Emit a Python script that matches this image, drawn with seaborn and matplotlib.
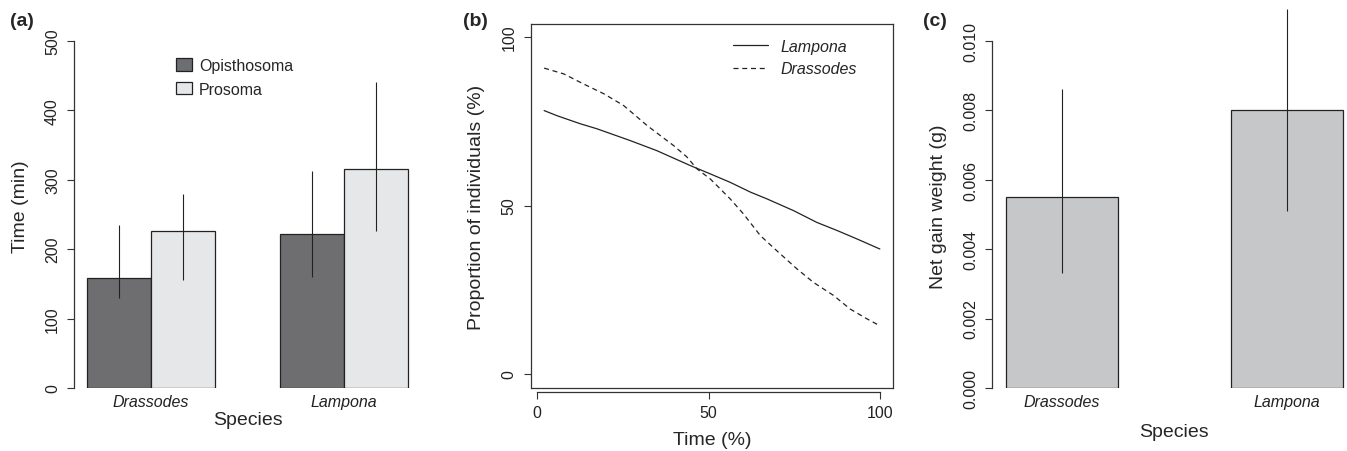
import numpy as np
import pandas as pd
import matplotlib
matplotlib.use("Agg")
import matplotlib.pyplot as plt
import seaborn as sns
from matplotlib.patches import Patch
from matplotlib.lines import Line2D

# panel (a): time to feed on each body part
species = ["Drassodes", "Lampona"]
parts = ["Opisthosoma", "Prosoma"]
opis_time = [158, 222]
opis_lo = [129, 160]
opis_hi = [235, 312]
pros_time = [226, 315]
pros_lo = [155, 226]
pros_hi = [280, 441]

# panel (b): proportion of individuals still feeding
lamp_x = [2, 5.7, 12.5, 17.4, 27.1, 34.9, 44.6, 50.5, 56.3, 62.2, 67, 74.8, 81.6, 87.5, 93.3, 100]
lamp_y = [78.2, 76.7, 74.3, 72.8, 69.3, 66.3, 61.9, 59.4, 56.9, 54.0, 52.0, 48.5, 45.0, 42.6, 40.1, 37.1]
dras_x = [2, 7.7, 13.5, 19.4, 25.2, 28.1, 32, 35.9, 39.8, 43.7, 46.6, 50.5, 56.3, 60.2, 65.1,
          69.9, 75.8, 80.6, 86.5, 91.3, 96, 100]
dras_y = [90.8, 89.1, 86.1, 83.2, 79.7, 77.2, 73.8, 70.8, 67.8, 64.4, 60.9, 57.9, 52.0, 47.5, 41.1,
          36.6, 31.2, 27.2, 23.3, 19.3, 16.5, 14.3]

# panel (c): net weight gain
gain = [0.0055, 0.0080]
gain_lo = [0.0033, 0.0051]
gain_hi = [0.0086, 0.0109]

dark = "#6d6e72"
light = "#e6e7e8"
mid = "#c6c7c9"
ink = "#222222"

sns.set_style("ticks")
plt.rcParams["font.family"] = ["Liberation Sans", "DejaVu Sans"]
plt.rcParams["axes.edgecolor"] = "#333333"
plt.rcParams["axes.linewidth"] = 0.9
plt.rcParams["xtick.color"] = "#333333"
plt.rcParams["ytick.color"] = "#333333"
plt.rcParams["xtick.labelcolor"] = "#222222"
plt.rcParams["ytick.labelcolor"] = "#222222"

tick_fs = 11.5
lab_fs = 14

fig = plt.figure(figsize=(13.47, 4.52), dpi=100)
H = 452.0
W = 1347.0
bot = 1 - 389 / H
hgt = (389 - 25) / H

ax_a = fig.add_axes([74 / W, bot, (421 - 74) / W, hgt])
ax_b = fig.add_axes([530.7 / W, bot, (893.3 - 530.7) / W, hgt])
ax_c = fig.add_axes([992.2 / W, bot, (1355.8 - 992.2) / W, hgt])


def r_yaxis(ax, lo, hi, ticks, pad):
    ax.spines["left"].set_bounds(lo, hi)
    ax.set_yticks(ticks)
    ax.tick_params(axis="y", direction="out", length=5, width=0.8, pad=5,
                   labelsize=tick_fs, labelrotation=90)
    for t in ax.get_yticklabels():
        t.set_verticalalignment("center")
    ax.yaxis.labelpad = pad


# ---- (a)
df_a = pd.DataFrame({
    "species": species * 2,
    "part": [parts[0]] * 2 + [parts[1]] * 2,
    "time": opis_time + pros_time,
})
sns.barplot(data=df_a, x="species", y="time", hue="part", palette=[dark, light],
            width=2 / 3, edgecolor=ink, linewidth=0.9, errorbar=None,
            legend=False, ax=ax_a)
for cont, lo, hi in zip(ax_a.containers, [opis_lo, pros_lo], [opis_hi, pros_hi]):
    xs = [b.get_x() + b.get_width() / 2 for b in cont]
    ax_a.vlines(xs, lo, hi, color=ink, lw=0.8, zorder=5)
ax_a.set_xlim(-0.4, 1.4)
ax_a.set_ylim(0, 524.5)
sns.despine(ax=ax_a, bottom=True)
r_yaxis(ax_a, 0, 500, [0, 100, 200, 300, 400, 500], 11.5)
ax_a.tick_params(axis="x", length=0, pad=4.5, labelsize=tick_fs)
for t in ax_a.get_xticklabels():
    t.set_style("italic")
ax_a.set_xlabel("Species", fontsize=lab_fs, labelpad=1)
ax_a.set_ylabel("Time (min)", fontsize=lab_fs)
ax_a.legend(handles=[Patch(facecolor=dark, edgecolor=ink, lw=0.9, label=parts[0]),
                     Patch(facecolor=light, edgecolor=ink, lw=0.9, label=parts[1])],
            loc="upper left", bbox_to_anchor=(176 / W, 1 - 59 / H),
            bbox_transform=fig.transFigure, frameon=False, fontsize=tick_fs,
            handlelength=1.0, handleheight=0.8, handletextpad=0.45,
            labelspacing=0.55, borderpad=0, borderaxespad=0)

# ---- (b)
sns.lineplot(x=lamp_x, y=lamp_y, ax=ax_b, color=ink, lw=0.9)
sns.lineplot(x=dras_x, y=dras_y, ax=ax_b, color=ink, lw=0.9, linestyle=(0, (4, 3)))
ax_b.set_xlim(-1.92, 103.92)
ax_b.set_ylim(-4.16, 103.9)
ax_b.spines["bottom"].set_position(("outward", 3))
ax_b.spines["bottom"].set_bounds(0, 100)
ax_b.plot([0, 1], [0, 0], transform=ax_b.transAxes, color="#333333", lw=0.9, clip_on=False)
ax_b.set_xticks([0, 50, 100])
ax_b.tick_params(axis="x", direction="out", length=5, width=0.8, pad=4, labelsize=tick_fs)
r_yaxis(ax_b, -4.16, 103.9, [0, 50, 100], 12)
ax_b.set_xlabel("Time (%)", fontsize=lab_fs, labelpad=8)
ax_b.set_ylabel("Proportion of individuals (%)", fontsize=lab_fs)
ax_b.legend(handles=[Line2D([], [], color=ink, lw=0.9, label="Lampona"),
                     Line2D([], [], color=ink, lw=0.9, linestyle=(0, (4, 3)), label="Drassodes")],
            loc="upper left", bbox_to_anchor=(733 / W, 1 - 40 / H),
            bbox_transform=fig.transFigure, frameon=False,
            prop={"style": "italic", "size": tick_fs},
            handlelength=2.2, handletextpad=0.75, labelspacing=0.45,
            borderpad=0, borderaxespad=0)

# ---- (c)
sns.barplot(x=species, y=gain, color=mid, width=0.5, edgecolor=ink, linewidth=0.9,
            errorbar=None, ax=ax_c)
xs = [b.get_x() + b.get_width() / 2 for b in ax_c.containers[0]]
ax_c.vlines(xs, gain_lo, gain_hi, color=ink, lw=0.8, zorder=5, clip_on=False)
ax_c.set_xlim(-0.31, 1.305)
ax_c.set_ylim(0, 0.01048)
sns.despine(ax=ax_c, bottom=True)
r_yaxis(ax_c, 0, 0.010, [0, 0.002, 0.004, 0.006, 0.008, 0.010], 11.5)
ax_c.set_yticklabels(["%.3f" % v for v in [0, 0.002, 0.004, 0.006, 0.008, 0.010]])
for t in ax_c.get_yticklabels():
    t.set_verticalalignment("center")
ax_c.tick_params(axis="x", length=0, pad=4.5, labelsize=tick_fs)
for t in ax_c.get_xticklabels():
    t.set_style("italic")
ax_c.set_xlabel("Species", fontsize=lab_fs, labelpad=10)
ax_c.set_ylabel("Net gain weight (g)", fontsize=lab_fs)

for x, s in [(10, "(a)"), (463, "(b)"), (923, "(c)")]:
    fig.text(x / W, 1 - 22 / H, s, fontsize=14, fontweight="bold", va="center", ha="left")

fig.savefig("out.png", dpi=100)
